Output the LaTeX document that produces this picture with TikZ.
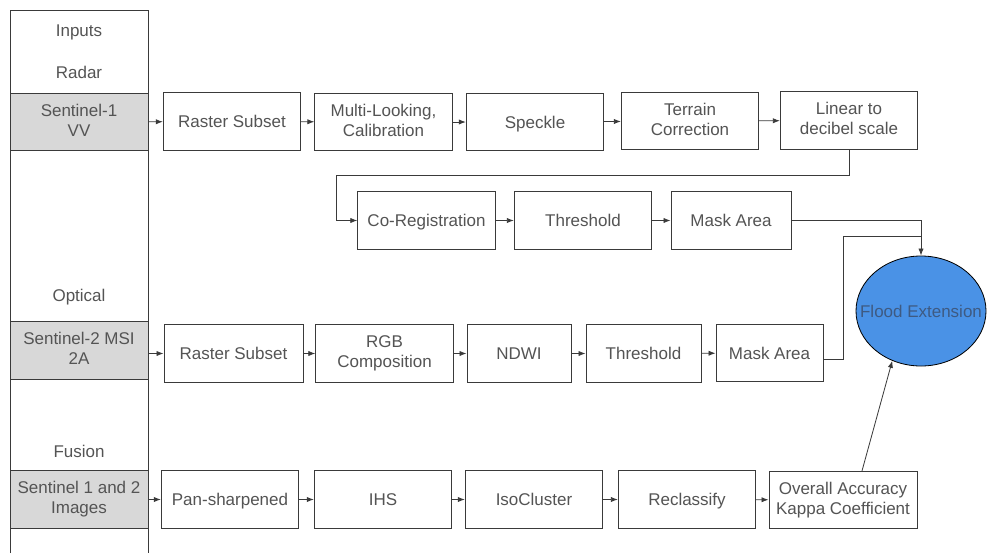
\documentclass[tikz,border=0pt]{standalone}
\usepackage{fontspec}
\setmainfont{Liberation Sans}
\usetikzlibrary{arrows.meta,shapes.geometric}
\definecolor{inktext}{RGB}{84,84,84}
\definecolor{boxline}{RGB}{58,58,58}
\definecolor{cellgray}{RGB}{216,216,216}
\definecolor{floodblue}{RGB}{74,146,230}
\definecolor{floodtext}{RGB}{62,90,130}
\newcommand\boxstrut{\rule[-0.23em]{0pt}{1.18em}}

\begin{document}
\begin{tikzpicture}[x=0.03cm, y=-0.03cm,
    stepbox/.style={draw=boxline, line width=0.8pt, fill=white, text=inktext,
        align=center, minimum height=1.72cm, minimum width=4.12cm, inner sep=1pt,
        font=\fontsize{14.5}{17}\selectfont,
        execute at begin node=\boxstrut, execute at end node=\boxstrut},
    srcbox/.style={stepbox, fill=cellgray, minimum width=4.14cm},
    lbl/.style={text=inktext, font=\fontsize{14.5}{17}\selectfont},
    flow/.style={draw=boxline, line width=0.7pt, -{Latex[length=6pt,width=4.5pt]}}]
    \useasboundingbox (0,0) rectangle (987,553);

    % Inputs column
    \draw[boxline, line width=0.8pt] (10,553) -- (10,10) -- (148,10) -- (148,553);
    \node[lbl] (inputs) at (79,32) {Inputs};
    \node[lbl] (radar) at (79,72) {Radar};
    \node[lbl] (optical) at (79,297) {Optical};
    \node[lbl] (fusion) at (79,451) {Fusion};
    \node[srcbox] (s1) at (79,122) {Sentinel-1\\VV};
    \node[srcbox] (s2) at (79,350.5) {Sentinel-2 MSI\\2A};
    \node[srcbox] (s12) at (79,499.5) {Sentinel 1 and 2\\Images};

    % Radar chain
    \node[stepbox] (rsub1) at (232,121.5) {Raster Subset};
    \node[stepbox] (multi) at (383.5,122) {Multi-Looking,\\Calibration};
    \node[stepbox] (speckle) at (535,122) {Speckle};
    \node[stepbox] (terrain) at (690,121) {Terrain\\Correction};
    \node[stepbox] (lindb) at (849,120.5) {Linear to\\decibel scale};
    \node[stepbox] (coreg) at (426.5,220.5) {Co-Registration};
    \node[stepbox] (thr1) at (583,220.5) {Threshold};
    \node[stepbox, minimum width=3.6cm] (mask1) at (731,220.5) {Mask Area};

    % Optical chain
    \node[stepbox, minimum width=4.17cm] (rsub2) at (233.5,353.5) {Raster Subset};
    \node[stepbox] (rgb) at (384.5,353.5) {RGB\\Composition};
    \node[stepbox, minimum width=3.12cm] (ndwi) at (519,353.5) {NDWI};
    \node[stepbox, minimum width=3.45cm] (thr2) at (643.5,353.5) {Threshold};
    \node[stepbox, minimum width=3.21cm] (mask2) at (769.5,353) {Mask Area};

    % Fusion chain
    \node[stepbox] (pan) at (230,499.5) {Pan-sharpened};
    \node[stepbox] (ihs) at (383,499.5) {IHS};
    \node[stepbox] (iso) at (534,499.5) {IsoCluster};
    \node[stepbox] (recl) at (687,499.5) {Reclassify};
    \node[stepbox, minimum width=4.44cm] (acc) at (843,500) {Overall Accuracy\\Kappa Coefficient};

    % Result
    \node[ellipse, draw=black, line width=0.7pt, fill=floodblue, minimum width=3.9cm,
        minimum height=3.3cm, inner sep=0pt,
        label={[text=floodtext, font=\fontsize{14.5}{17}\selectfont]center:Flood Extension}]
        (flood) at (921,311) {};

    % Connectors
    \draw[flow] (s1) -- (rsub1);
    \draw[flow] (rsub1) -- (multi);
    \draw[flow] (multi) -- (speckle);
    \draw[flow] (speckle) -- (terrain);
    \draw[flow] (terrain) -- (lindb);
    \draw[flow] (lindb.south) |- (336,175) |- (coreg.west);
    \draw[flow] (coreg) -- (thr1);
    \draw[flow] (thr1) -- (mask1);
    \draw[flow] (mask1.east) -| (flood.north);

    \draw[flow] (s2.east |- rsub2.west) -- (rsub2.west);
    \draw[flow] (rsub2) -- (rgb);
    \draw[flow] (rgb) -- (ndwi);
    \draw[flow] (ndwi) -- (thr2);
    \draw[flow] (thr2) -- (mask2);
    \draw[boxline, line width=0.7pt] ([yshift=-0.2cm]mask2.east) -| (843,236) -- (flood.north |- {(843,236)});

    \draw[flow] (s12) -- (pan);
    \draw[flow] (pan) -- (ihs);
    \draw[flow] (ihs) -- (iso);
    \draw[flow] (iso) -- (recl);
    \draw[flow] (recl) -- (acc);
    \draw[flow] ([xshift=0.57cm]acc.north) -- (flood.240);
\end{tikzpicture}
\end{document}
